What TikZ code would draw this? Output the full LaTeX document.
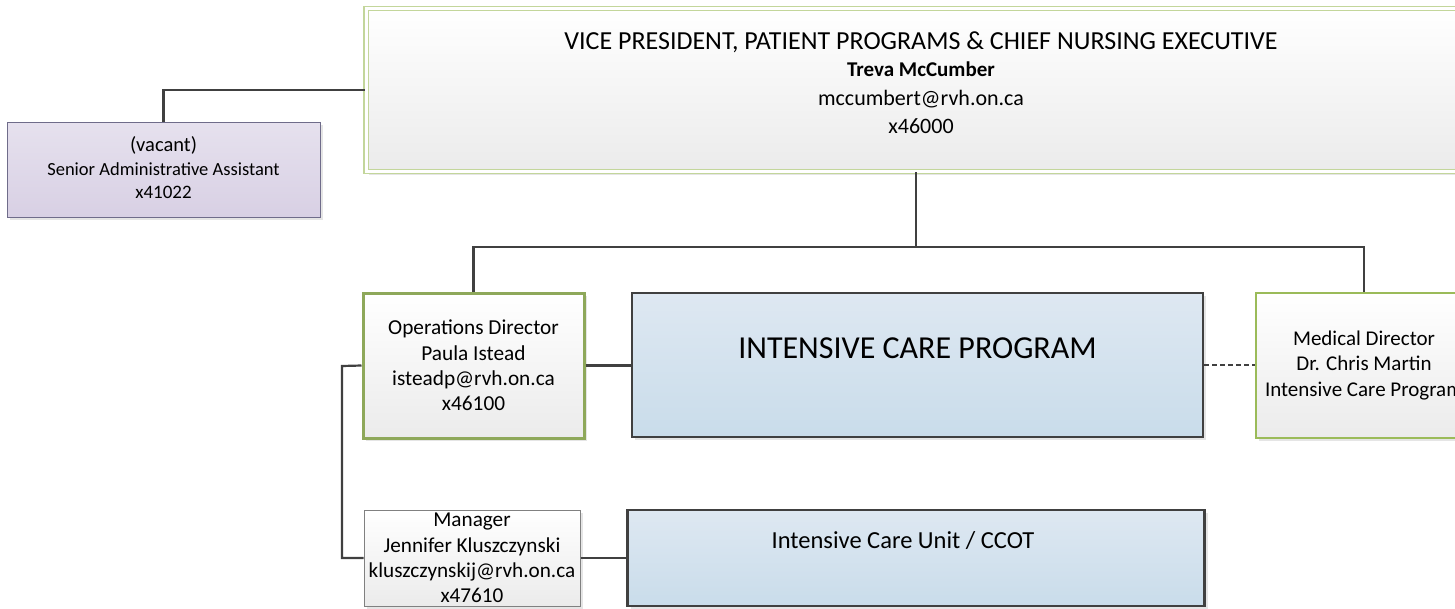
\documentclass[tikz,border=0pt]{standalone}
\usepackage{fontspec}
\setmainfont{Carlito}
\usetikzlibrary{shadows}
\definecolor{conn}{HTML}{404040}
\definecolor{olivelite}{HTML}{C3D69B}
\definecolor{olivedark}{HTML}{8EA85A}
\definecolor{olivemid}{HTML}{9BBB59}
\definecolor{lavtop}{HTML}{E6E1EE}
\definecolor{lavbot}{HTML}{D8D0E4}
\definecolor{lavline}{HTML}{6F6C8A}
\definecolor{bluetop}{HTML}{DEE8F2}
\definecolor{bluebot}{HTML}{C9DCEA}
\definecolor{greybot}{HTML}{EBEBEB}
\tikzset{
  shad/.style={drop shadow={shadow xshift=3pt,shadow yshift=-3pt,fill=black!10,opacity=1}},
  greybox/.style={rectangle,inner sep=0pt,top color=white,bottom color=greybot,shad},
  bluebox/.style={rectangle,inner sep=0pt,top color=bluetop,bottom color=bluebot,draw=conn,line width=2.5pt,shad},
  txt/.style={align=center,inner sep=0pt},
  link/.style={draw=conn,line width=2.2pt},
  dlink/.style={draw=conn,line width=2pt,dash pattern=on 5pt off 3pt},
}
\begin{document}
\begin{tikzpicture}[x=1pt,y=-1pt]
\useasboundingbox (0,0) rectangle (1455,608);
\clip (0,0) rectangle (1455,608);
% VP
\node[greybox,draw=olivelite,line width=1.3pt,double=white,double distance=3pt,
      minimum width=1110pt,minimum height=163pt] (vp) at (921,90) {};
\node[txt,font=\fontsize{26}{30}\selectfont] (vp1) at (921,42) {VICE PRESIDENT, PATIENT PROGRAMS \& CHIEF NURSING EXECUTIVE};
\node[txt,font=\fontsize{21}{26}\selectfont\bfseries] (vp2) at (921,69) {Treva McCumber};
\node[txt,font=\fontsize{22}{26}\selectfont] (vp3) at (921,99) {mccumbert@rvh.on.ca};
\node[txt,font=\fontsize{22}{26}\selectfont] (vp4) at (921,126) {x46000};
% Assistant
\node[rectangle,inner sep=0pt,top color=lavtop,bottom color=lavbot,draw=lavline,line width=1pt,shad,
      minimum width=313pt,minimum height=95pt] (asst) at (163.5,169.5) {};
\node[txt,font=\fontsize{20.5}{24}\selectfont] (as1) at (163.5,145) {(vacant)};
\node[txt,font=\fontsize{18.5}{24}\selectfont] (as2) at (163.5,169) {Senior Administrative Assistant};
\node[txt,font=\fontsize{19}{24}\selectfont] (as3) at (163.5,192) {x41022};
% Operations director
\node[greybox,draw=olivedark,line width=3pt,minimum width=221pt,minimum height=145pt,
      txt,font=\fontsize{21.3}{25.3}\selectfont] (ops) at (473.5,365.5)
  {Operations Director\\ Paula Istead\\isteadp@rvh.on.ca\\x46100};
% ICP
\node[bluebox,minimum width=571pt,minimum height=144pt] (icp) at (917.5,365) {};
\node[txt,font=\fontsize{32}{38}\selectfont] (icpt) at (917.5,348) {INTENSIVE CARE PROGRAM};
% Medical director
\node[greybox,draw=olivemid,line width=2pt,minimum width=216pt,minimum height=145pt,
      txt,font=\fontsize{21}{25.5}\selectfont] (med) at (1364,365.5)
  {Medical Director\\Dr. Chris Martin\\Intensive Care Program};
% Manager
\node[greybox,draw=black!50,line width=1pt,minimum width=216pt,minimum height=96pt,
      txt,font=\fontsize{21.2}{25.3}\selectfont] (mgr) at (472,558)
  {Manager\\Jennifer Kluszczynski\\kluszczynskij@rvh.on.ca\\x47610};
% ICU
\node[bluebox,minimum width=577pt,minimum height=96pt] (icu) at (916,558) {};
\node[txt,font=\fontsize{24.5}{28}\selectfont] (icut) at (903,541) {Intensive Care Unit / CCOT};
% connectors
\coordinate (bus) at (916,247);
\coordinate (lbus) at (342,366);
\draw[link] (bus |- vp.south) -- (bus);
\draw[link] (ops.north) |- (bus) -| (med.north);
\draw[link] (asst.north) |- (vp.west);
\draw[link] (ops.west) -- (lbus) |- (mgr.west);
\draw[link] (ops.east) -- (ops.east -| icp.west);
\draw[dlink] (icp.east) -- (icp.east -| med.west);
\draw[link] (mgr.east) -- (mgr.east -| icu.west);
\end{tikzpicture}
\end{document}
